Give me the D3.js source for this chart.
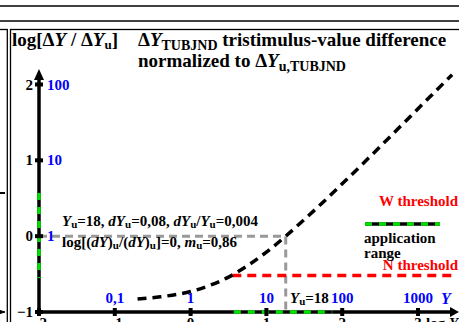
<!DOCTYPE html>
<html>
<head>
<meta charset="utf-8">
<script src="https://cdn.jsdelivr.net/npm/d3@7"></script>
<style>
  body { margin: 0; background: #fff; }
  svg { display: block; font-family: "Liberation Serif", "DejaVu Serif", serif; font-weight: bold; }
</style>
</head>
<body>
<div id="chart"></div>
<script>
// log Y values of the curve and log(dY/dYu)
var curveLogY = [-0.7, -0.4, 0, 0.25, 0.5, 0.75, 1.0, 1.255, 1.5, 1.75, 2.0, 2.5, 3.0, 3.45];
var curveVal  = [-0.83, -0.80, -0.73, -0.65, -0.54, -0.39, -0.21, 0, 0.22, 0.45, 0.69, 1.18, 1.68, 2.13];

var xTicks = [-2, -1, 0, 1, 2, 3];
var xTickLabels = ["\u22122", "\u22121", "0", "1", "2", "3"];
var xBlueLabels = ["0,1", "1", "10", "100", "1000"];   // at logY -1..3
var yTicks = [-1, 0, 1, 2];
var yTickLabels = ["\u22121", "0", "1", "2"];
var yBlueLabels = ["1", "10", "100"];                  // at 0..2

var logYu = 1.255;                 // Yu = 18
var appRangeX = [0.57, 1.87];      // application range on log Y
var appRangeY = [-0.55, 0.57];     // application range on log ratio
var nThreshold = -0.52;
var nThresholdX = [0.55, 3.5];

var width = 459, height = 322;

var svg = d3.select("#chart").append("svg")
    .attr("width", width)
    .attr("height", height);

var x = d3.scaleLinear().domain([-2, 3]).range([39, 418]);
var y = d3.scaleLinear().domain([-1, 2]).range([312, 84.5]);

// header rules and frames
svg.append("line").attr("x1", 0).attr("x2", width).attr("y1", 6).attr("y2", 6)
    .attr("stroke", "#000").attr("stroke-width", 1.3);
svg.append("line").attr("x1", 0).attr("x2", width).attr("y1", 21).attr("y2", 21)
    .attr("stroke", "#000").attr("stroke-width", 1.3);
svg.append("rect").attr("x", -20).attr("y", 29.5).attr("width", 27.3).attr("height", 320)
    .attr("fill", "none").attr("stroke", "#000").attr("stroke-width", 1.3);
svg.append("rect").attr("x", 10.5).attr("y", 29.5).attr("width", 460).attr("height", 320)
    .attr("fill", "none").attr("stroke", "#000").attr("stroke-width", 1.3);

// remnants of the neighbour panel on the left
svg.append("line").attr("x1", 0).attr("x2", 5).attr("y1", 193).attr("y2", 193)
    .attr("stroke", "#000").attr("stroke-width", 2);
svg.append("path").attr("d", "M0,310.5 L5,312 L0,313.5 Z").attr("fill", "#000").attr("stroke", "#000");

// gray Yu guide lines
svg.append("path")
    .attr("d", d3.line()([[x(-2), y(0)], [x(logYu), y(0)], [x(logYu), y(-1)]]))
    .attr("fill", "none").attr("stroke", "#999").attr("stroke-width", 3)
    .attr("stroke-dasharray", "8,5");

// N threshold line
svg.append("line")
    .attr("x1", x(nThresholdX[0])).attr("x2", x(nThresholdX[1]))
    .attr("y1", y(nThreshold)).attr("y2", y(nThreshold))
    .attr("stroke", "#f00").attr("stroke-width", 3.5).attr("stroke-dasharray", "9,6");

// axes
svg.append("line").attr("x1", x(-2)).attr("x2", 452).attr("y1", y(-1)).attr("y2", y(-1))
    .attr("stroke", "#000").attr("stroke-width", 3.5);
svg.append("path").attr("d", "M450,307 L459,312 L450,317 Z").attr("fill", "#000");
svg.append("line").attr("x1", x(-2)).attr("x2", x(-2)).attr("y1", y(-1)).attr("y2", 78)
    .attr("stroke", "#000").attr("stroke-width", 3.5);
svg.append("path").attr("d", "M34,80 L39,69 L44,80 Z").attr("fill", "#000");

// application range on axes
svg.append("line").attr("x1", x(appRangeX[0])).attr("x2", x(appRangeX[1]))
    .attr("y1", y(-1)).attr("y2", y(-1))
    .attr("stroke", "#00e000").attr("stroke-width", 3.5).attr("stroke-dasharray", "7,7");
svg.append("line").attr("x1", x(-2)).attr("x2", x(-2))
    .attr("y1", y(appRangeY[1])).attr("y2", y(appRangeY[0]))
    .attr("stroke", "#00e000").attr("stroke-width", 3.5).attr("stroke-dasharray", "7,7");

// tick marks
svg.selectAll(".xt").data(xTicks).enter().append("rect")
    .attr("x", function (d) { return x(d) - 2; }).attr("y", y(-1) - 4)
    .attr("width", 4).attr("height", 8).attr("fill", "#000");
svg.selectAll(".yt").data(yTicks).enter().append("rect")
    .attr("x", x(-2) - 4).attr("y", function (d) { return y(d) - 2; })
    .attr("width", 8).attr("height", 4).attr("fill", "#000");

// tick labels
svg.selectAll(".yl").data(yTicks).enter().append("text")
    .attr("x", x(-2) - 6).attr("y", function (d) { return y(d) + 5; })
    .attr("text-anchor", "end").attr("font-size", 15)
    .text(function (d, i) { return yTickLabels[i]; });
svg.selectAll(".yb").data(yBlueLabels).enter().append("text")
    .attr("x", x(-2) + 8).attr("y", function (d, i) { return y(i) + 5; })
    .attr("font-size", 15).attr("fill", "#00f")
    .text(function (d) { return d; });
svg.selectAll(".xl").data(xTicks).enter().append("text")
    .attr("x", function (d) { return x(d); }).attr("y", y(-1) + 16)
    .attr("text-anchor", "middle").attr("font-size", 15)
    .text(function (d, i) { return xTickLabels[i]; });
svg.append("text").attr("x", x(3) + 8).attr("y", y(-1) + 16).attr("font-size", 15)
    .html("log <tspan font-style='italic'>Y</tspan>");
svg.selectAll(".xb").data(xBlueLabels).enter().append("text")
    .attr("x", function (d, i) { return x(i - 1); }).attr("y", y(-1) - 9)
    .attr("text-anchor", "middle").attr("font-size", 15).attr("fill", "#00f")
    .text(function (d) { return d; });
svg.append("text").attr("x", 441).attr("y", y(-1) - 8).attr("font-size", 16)
    .attr("fill", "#00f").attr("font-style", "italic").text("Y");

// curve
svg.append("path")
    .datum(curveLogY.map(function (d, i) { return [d, curveVal[i]]; }))
    .attr("d", d3.line().x(function (d) { return x(d[0]); }).y(function (d) { return y(d[1]); }).curve(d3.curveMonotoneX))
    .attr("fill", "none").attr("stroke", "#000").attr("stroke-width", 3.5)
    .attr("stroke-dasharray", "9,6");

// titles
svg.append("text").attr("x", 12).attr("y", 46).attr("font-size", 19)
    .html("log[\u0394<tspan font-style='italic'>Y</tspan> / \u0394<tspan font-style='italic'>Y</tspan><tspan font-size='13' dy='3'>u</tspan><tspan dy='-3'>]</tspan>");
svg.append("text").attr("x", 138).attr("y", 46).attr("font-size", 19)
    .html("\u0394<tspan font-style='italic'>Y</tspan><tspan font-size='14' dy='4'>TUBJND</tspan><tspan dy='-4'> tristimulus-value difference</tspan>");
svg.append("text").attr("x", 138).attr("y", 67).attr("font-size", 19)
    .html("normalized to \u0394<tspan font-style='italic'>Y</tspan><tspan font-size='14' dy='4'>u,TUBJND</tspan>");

// annotations
svg.append("text").attr("x", 62).attr("y", 226).attr("font-size", 15)
    .html("<tspan font-style='italic'>Y</tspan><tspan font-size='11' dy='2'>u</tspan><tspan dy='-2'>=18, </tspan><tspan font-style='italic'>dY</tspan><tspan font-size='11' dy='2'>u</tspan><tspan dy='-2'>=0,08, </tspan><tspan font-style='italic'>dY</tspan><tspan font-size='11' dy='2'>u</tspan><tspan dy='-2'>/</tspan><tspan font-style='italic'>Y</tspan><tspan font-size='11' dy='2'>u</tspan><tspan dy='-2'>=0,004</tspan>");
svg.append("text").attr("x", 62).attr("y", 247).attr("font-size", 15)
    .html("log[(<tspan font-style='italic'>dY</tspan>)<tspan font-size='11' dy='2'>u</tspan><tspan dy='-2'>/(</tspan><tspan font-style='italic'>dY</tspan>)<tspan font-size='11' dy='2'>u</tspan><tspan dy='-2'>]=0, </tspan><tspan font-style='italic'>m</tspan><tspan font-size='11' dy='2'>u</tspan><tspan dy='-2'>=0,86</tspan>");
svg.append("text").attr("x", 290).attr("y", 303).attr("font-size", 15)
    .html("<tspan font-style='italic'>Y</tspan><tspan font-size='11' dy='2'>u</tspan><tspan dy='-2'>=18</tspan>");

// legend / threshold labels
svg.append("text").attr("x", 458).attr("y", 206).attr("text-anchor", "end")
    .attr("font-size", 15).attr("fill", "#f00").text("W threshold");
svg.append("text").attr("x", 458).attr("y", 270).attr("text-anchor", "end")
    .attr("font-size", 15).attr("fill", "#f00").text("N threshold");
svg.append("line").attr("x1", 365).attr("x2", 440).attr("y1", 224).attr("y2", 224)
    .attr("stroke", "#000").attr("stroke-width", 3.5);
svg.append("line").attr("x1", 365).attr("x2", 440).attr("y1", 224).attr("y2", 224)
    .attr("stroke", "#00e000").attr("stroke-width", 3.5).attr("stroke-dasharray", "7,7");
svg.append("text").attr("x", 364).attr("y", 243).attr("font-size", 15).text("application");
svg.append("text").attr("x", 364).attr("y", 258).attr("font-size", 15).text("range");
</script>
</body>
</html>
